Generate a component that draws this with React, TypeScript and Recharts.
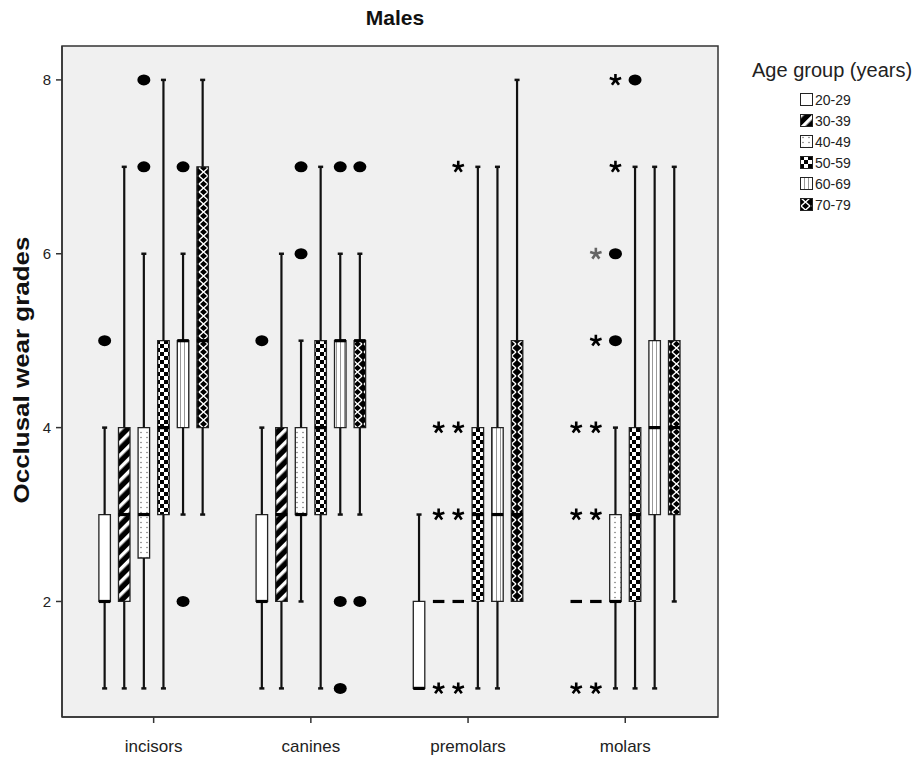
import { ComposedChart, XAxis, YAxis, CartesianGrid, ReferenceArea, ReferenceLine, Scatter } from "recharts";

const categories = ["incisors", "canines", "premolars", "molars"];
const ageGroups = ["20-29", "30-39", "40-49", "50-59", "60-69", "70-79"];

// rows = age group, columns = incisors, canines, premolars, molars
const whiskerLow = [
  [1, 1, 1, 2],
  [1, 1, 2, 2],
  [1, 2, 2, 1],
  [1, 1, 1, 1],
  [3, 3, 1, 1],
  [3, 3, 2, 2],
];
const q1 = [
  [2, 2, 1, 2],
  [2, 2, 2, 2],
  [2.5, 3, 2, 2],
  [3, 3, 2, 2],
  [4, 4, 2, 3],
  [4, 4, 2, 3],
];
const median = [
  [2, 2, 1, 2],
  [3, 3, 2, 2],
  [3, 3, 2, 2],
  [4, 4, 3, 3],
  [5, 5, 3, 4],
  [5, 5, 3, 4],
];
const q3 = [
  [3, 3, 2, 2],
  [4, 4, 2, 2],
  [4, 4, 2, 3],
  [5, 5, 4, 4],
  [5, 5, 4, 5],
  [7, 5, 5, 5],
];
const whiskerHigh = [
  [4, 4, 3, 2],
  [7, 6, 2, 2],
  [6, 5, 2, 4],
  [8, 7, 7, 7],
  [6, 6, 7, 7],
  [8, 6, 8, 7],
];

// [age group, category, value]
const circleOutliers = [
  [0, 0, 5], [2, 0, 7], [2, 0, 8], [4, 0, 7], [4, 0, 2],
  [0, 1, 5], [2, 1, 6], [2, 1, 7], [4, 1, 7], [4, 1, 2], [4, 1, 1], [5, 1, 7], [5, 1, 2],
  [2, 3, 5], [2, 3, 6], [3, 3, 8],
];
const starOutliers = [
  [1, 2, 1], [1, 2, 3], [1, 2, 4],
  [2, 2, 1], [2, 2, 3], [2, 2, 4], [2, 2, 7],
  [0, 3, 1], [0, 3, 3], [0, 3, 4],
  [1, 3, 1], [1, 3, 3], [1, 3, 4], [1, 3, 5], [1, 3, 6],
  [2, 3, 7], [2, 3, 8],
];
const lightStars = ["1-3-6"];

const yTicks = [2, 4, 6, 8];
const xTicks = [0, 1, 2, 3];

const X_DOMAIN: [number, number] = [-0.583, 3.59];
const Y_DOMAIN: [number, number] = [0.671, 8.39];
const STEP = 0.1247;
const BOX_W = 0.0732;
const CAP = 0.016;
const FONT = "'Liberation Sans', Arial, sans-serif";

const xPos = (g: number, c: number) => c + (g - 2.5) * STEP;

function Patterns() {
  return (
    <svg width={0} height={0} style={{ position: "absolute" }}>
      <defs>
        <pattern id="pat0" patternUnits="userSpaceOnUse" width={4} height={4}>
          <rect width={4} height={4} fill="#fff" />
        </pattern>
        <pattern id="pat1" patternUnits="userSpaceOnUse" width={9} height={9} patternTransform="rotate(45)">
          <rect width={9} height={9} fill="#000" />
          <rect width={3.5} height={9} fill="#fff" />
        </pattern>
        <pattern id="pat2" patternUnits="userSpaceOnUse" width={6} height={5}>
          <rect width={6} height={5} fill="#fff" />
          <circle cx={3} cy={2.5} r={0.8} fill="#777" />
        </pattern>
        <pattern id="pat3" patternUnits="userSpaceOnUse" width={8} height={8}>
          <rect width={8} height={8} fill="#fff" />
          <rect width={4} height={4} fill="#000" />
          <rect x={4} y={4} width={4} height={4} fill="#000" />
        </pattern>
        <pattern id="pat4" patternUnits="userSpaceOnUse" width={4} height={4}>
          <rect width={4} height={4} fill="#fff" />
          <rect width={1} height={4} fill="#999" />
        </pattern>
        <pattern id="pat5" patternUnits="userSpaceOnUse" width={11} height={8}>
          <rect width={11} height={8} fill="#000" />
          <path d="M1 0 L10 8 M10 0 L1 8" stroke="#fff" strokeWidth={1.4} />
        </pattern>
      </defs>
    </svg>
  );
}

const CircleShape = (p: any) => <ellipse cx={p.cx} cy={p.cy} rx={6.5} ry={5.5} fill="#000" />;

const StarShape = (p: any) => {
  const r = 6;
  const d = [-90, -18, 54, 126, 198]
    .map(a => {
      const t = (a * Math.PI) / 180;
      return `M${p.cx} ${p.cy} L${p.cx + r * Math.cos(t)} ${p.cy + r * Math.sin(t)}`;
    })
    .join(" ");
  return <path d={d} stroke={p.payload.light ? "#666" : "#000"} strokeWidth={2.6} fill="none" />;
};

export default function App() {
  const circles = circleOutliers.map(([g, c, v]) => ({ x: xPos(g, c), y: v }));
  const stars = starOutliers.map(([g, c, v]) => ({ x: xPos(g, c), y: v, light: lightStars.includes(`${g}-${c}-${v}`) }));

  const boxes: any[] = [];
  ageGroups.forEach((_, g) => {
    categories.forEach((__, c) => {
      const x = xPos(g, c);
      const lo = whiskerLow[g][c], hi = whiskerHigh[g][c];
      const b1 = q1[g][c], b3 = q3[g][c], m = median[g][c];
      const k = `${g}-${c}`;
      if (hi > b3) {
        boxes.push(<ReferenceLine key={"wu" + k} segment={[{ x, y: b3 }, { x, y: hi }]} stroke="#111" strokeWidth={2.2} />);
        boxes.push(<ReferenceLine key={"cu" + k} segment={[{ x: x - CAP, y: hi }, { x: x + CAP, y: hi }]} stroke="#111" strokeWidth={2.5} />);
      }
      if (lo < b1) {
        boxes.push(<ReferenceLine key={"wl" + k} segment={[{ x, y: lo }, { x, y: b1 }]} stroke="#111" strokeWidth={2.2} />);
        boxes.push(<ReferenceLine key={"cl" + k} segment={[{ x: x - CAP, y: lo }, { x: x + CAP, y: lo }]} stroke="#111" strokeWidth={2.5} />);
      }
      if (b3 > b1) {
        boxes.push(
          <ReferenceArea key={"b" + k} x1={x - BOX_W / 2} x2={x + BOX_W / 2} y1={b1} y2={b3}
            fill={`url(#pat${g})`} fillOpacity={1} stroke="#222" strokeWidth={1.3} />
        );
      }
      boxes.push(
        <ReferenceLine key={"m" + k} isFront segment={[{ x: x - BOX_W / 2, y: m }, { x: x + BOX_W / 2, y: m }]} stroke="#000" strokeWidth={3.2} />
      );
    });
  });

  return (
    <div style={{ position: "relative", width: 917, height: 760, background: "#fff", fontFamily: FONT }}>
      <style>{"body{margin:0}"}</style>
      <Patterns />
      <div style={{ position: "absolute", left: 295, top: 6, width: 200, lineHeight: "24px", textAlign: "center", fontSize: 21, fontWeight: "bold", color: "#111" }}>
        Males
      </div>
      <div style={{ position: "absolute", left: 22 - 200, top: 370 - 13, width: 400, height: 26, lineHeight: "26px", textAlign: "center", fontSize: 22, fontWeight: "bold", color: "#111", transform: "rotate(-90deg) scaleX(1.18)" }}>
        Occlusal wear grades
      </div>
      <div style={{ position: "absolute", left: 752, top: 58, color: "#222" }}>
        <div style={{ fontSize: 20, lineHeight: "24px", marginBottom: 7, whiteSpace: "nowrap" }}>Age group (years)</div>
        {ageGroups.map((a, g) => (
          <div key={a} style={{ display: "flex", alignItems: "center", marginLeft: 48, height: 21, fontSize: 14 }}>
            <svg width={13} height={13} style={{ marginRight: 2 }}>
              <rect x={0.5} y={0.5} width={12} height={12} fill={`url(#pat${g})`} stroke="#222" strokeWidth={1} />
            </svg>
            {a}
          </div>
        ))}
      </div>
      <ComposedChart width={917} height={760} margin={{ top: 46, right: 199, bottom: 0, left: 0 }}>
        <CartesianGrid fill="#f0f0f0" horizontal={false} vertical={false} />
        <XAxis dataKey="x" type="number" domain={X_DOMAIN} allowDataOverflow ticks={xTicks}
          tickFormatter={(v: number) => categories[v] ?? ""} height={43} tickSize={6} tickMargin={17}
          stroke="#333" strokeWidth={1.5} tick={{ fontSize: 17, fill: "#222", fontFamily: FONT }} />
        <YAxis dataKey="y" type="number" domain={Y_DOMAIN} allowDataOverflow ticks={yTicks} width={62}
          tickSize={6} tickMargin={5} stroke="#333" strokeWidth={1.5} tick={{ fontSize: 15, fill: "#222", fontFamily: FONT }} />
        <ReferenceArea x1={X_DOMAIN[0]} x2={X_DOMAIN[1]} y1={Y_DOMAIN[0]} y2={Y_DOMAIN[1]} ifOverflow="visible"
          isFront fill="none" stroke="#333" strokeWidth={1.5} />
        {boxes}
        <Scatter data={circles} shape={CircleShape} isAnimationActive={false} />
        <Scatter data={stars} shape={StarShape} isAnimationActive={false} />
      </ComposedChart>
    </div>
  );
}
